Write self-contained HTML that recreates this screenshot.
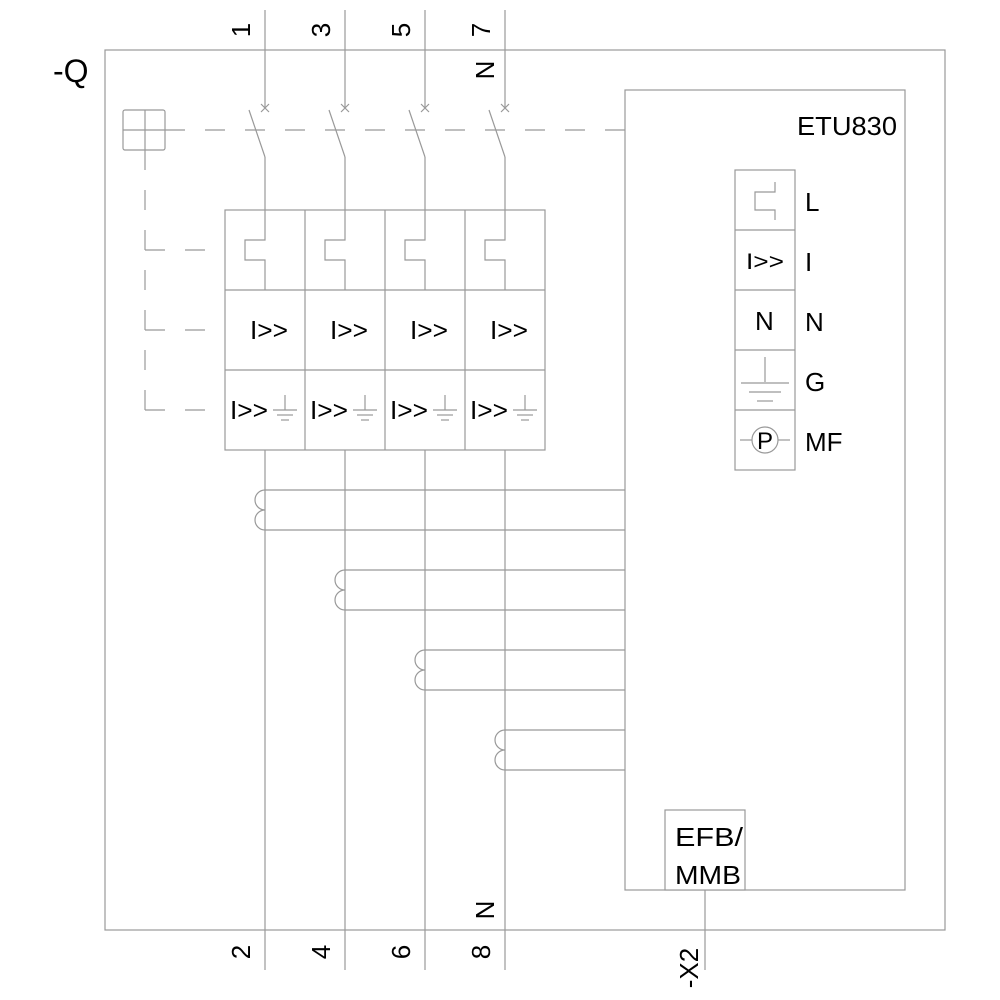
<!DOCTYPE html>
<html><head><meta charset="utf-8"><style>body{margin:0;background:#fff}svg{display:block}</style></head><body>
<svg width="1000" height="1000" viewBox="0 0 1000 1000" xmlns="http://www.w3.org/2000/svg" font-family="Liberation Sans, sans-serif">
<g stroke="#999" stroke-width="1.2" fill="none">
<rect x="105" y="50" width="840" height="880"/>
<rect x="625" y="90" width="280" height="800"/>
<rect x="123" y="110" width="42" height="40" rx="2"/>
<line x1="123" y1="130" x2="165" y2="130"/><line x1="145" y1="110" x2="145" y2="150"/>
<line x1="165" y1="130" x2="625" y2="130" stroke-dasharray="20,20"/>
<line x1="145" y1="150" x2="145" y2="410" stroke-dasharray="20,20"/>
<line x1="145" y1="250" x2="225" y2="250" stroke-dasharray="20,20"/>
<line x1="145" y1="330" x2="225" y2="330" stroke-dasharray="20,20"/>
<line x1="145" y1="410" x2="225" y2="410" stroke-dasharray="20,20"/>
<rect x="225" y="210" width="320" height="240"/>
<line x1="225" y1="290" x2="545" y2="290"/><line x1="225" y1="370" x2="545" y2="370"/>
<line x1="305" y1="210" x2="305" y2="450"/><line x1="385" y1="210" x2="385" y2="450"/><line x1="465" y1="210" x2="465" y2="450"/>
<g id="p">
<line x1="265" y1="10" x2="265" y2="108"/>
<path d="M261 104l8 8M269 104l-8 8"/>
<line x1="249" y1="110" x2="265" y2="157"/>
<path d="M265 157V240H245V260H265V290"/>
<line x1="265" y1="450" x2="265" y2="970"/>
<line x1="285" y1="395" x2="285" y2="410"/>
<line x1="273" y1="410" x2="297" y2="410"/><line x1="277" y1="415" x2="293" y2="415"/><line x1="281" y1="420" x2="289" y2="420"/>
</g>
<use href="#p" x="80"/><use href="#p" x="160"/><use href="#p" x="240"/>
<path d="M265 490H625M265 530H625M265 490A10 10 0 0 0 265 510A10 10 0 0 0 265 530"/>
<path d="M345 570H625M345 610H625M345 570A10 10 0 0 0 345 590A10 10 0 0 0 345 610"/>
<path d="M425 650H625M425 690H625M425 650A10 10 0 0 0 425 670A10 10 0 0 0 425 690"/>
<path d="M505 730H625M505 770H625M505 730A10 10 0 0 0 505 750A10 10 0 0 0 505 770"/>
<rect x="735" y="170" width="60" height="300"/>
<line x1="735" y1="230" x2="795" y2="230"/><line x1="735" y1="290" x2="795" y2="290"/><line x1="735" y1="350" x2="795" y2="350"/><line x1="735" y1="410" x2="795" y2="410"/>
<path d="M775 182V192H755V210H775V220"/>
<line x1="765" y1="357" x2="765" y2="382"/>
<line x1="741" y1="383" x2="789" y2="383"/><line x1="749" y1="392" x2="781" y2="392"/><line x1="757" y1="401" x2="773" y2="401"/>
<circle cx="765" cy="440" r="13"/><line x1="740" y1="440" x2="752" y2="440"/><line x1="778" y1="440" x2="790" y2="440"/>
<rect x="665" y="810" width="80" height="80" fill="#fff"/>
<line x1="705" y1="890" x2="705" y2="970"/>
</g>
<g fill="#000" font-size="26">
<text x="53" y="82" font-size="32">-Q</text>
<text x="797" y="135" textLength="100" lengthAdjust="spacingAndGlyphs">ETU830</text>
<g id="t"><text x="230" y="419" textLength="38" lengthAdjust="spacingAndGlyphs">I&gt;&gt;</text><text x="250" y="339" textLength="38" lengthAdjust="spacingAndGlyphs">I&gt;&gt;</text></g>
<use href="#t" x="80"/><use href="#t" x="160"/><use href="#t" x="240"/>
<text x="805" y="211">L</text>
<text x="805" y="271">I</text>
<text x="805" y="331">N</text>
<text x="805" y="391">G</text>
<text x="805" y="451">MF</text>
<text x="746" y="269" font-size="22" textLength="38" lengthAdjust="spacingAndGlyphs">I&gt;&gt;</text>
<text x="755" y="330">N</text>
<text x="765" y="449" font-size="24" text-anchor="middle">P</text>
<text x="675" y="846" textLength="68" lengthAdjust="spacingAndGlyphs">EFB/</text>
<text x="675" y="884" textLength="66" lengthAdjust="spacingAndGlyphs">MMB</text>
<g font-size="26">
<text transform="translate(250,30) rotate(-90)" text-anchor="middle">1</text>
<text transform="translate(330,30) rotate(-90)" text-anchor="middle">3</text>
<text transform="translate(410,30) rotate(-90)" text-anchor="middle">5</text>
<text transform="translate(490,30) rotate(-90)" text-anchor="middle">7</text>
<text transform="translate(494,70) rotate(-90)" text-anchor="middle">N</text>
<text transform="translate(494,910) rotate(-90)" text-anchor="middle">N</text>
<text transform="translate(250,952) rotate(-90)" text-anchor="middle">2</text>
<text transform="translate(330,952) rotate(-90)" text-anchor="middle">4</text>
<text transform="translate(410,952) rotate(-90)" text-anchor="middle">6</text>
<text transform="translate(490,952) rotate(-90)" text-anchor="middle">8</text>
<text transform="translate(698,968) rotate(-90)" text-anchor="middle">-X2</text>
</g>
</g>
</svg>
</body></html>
